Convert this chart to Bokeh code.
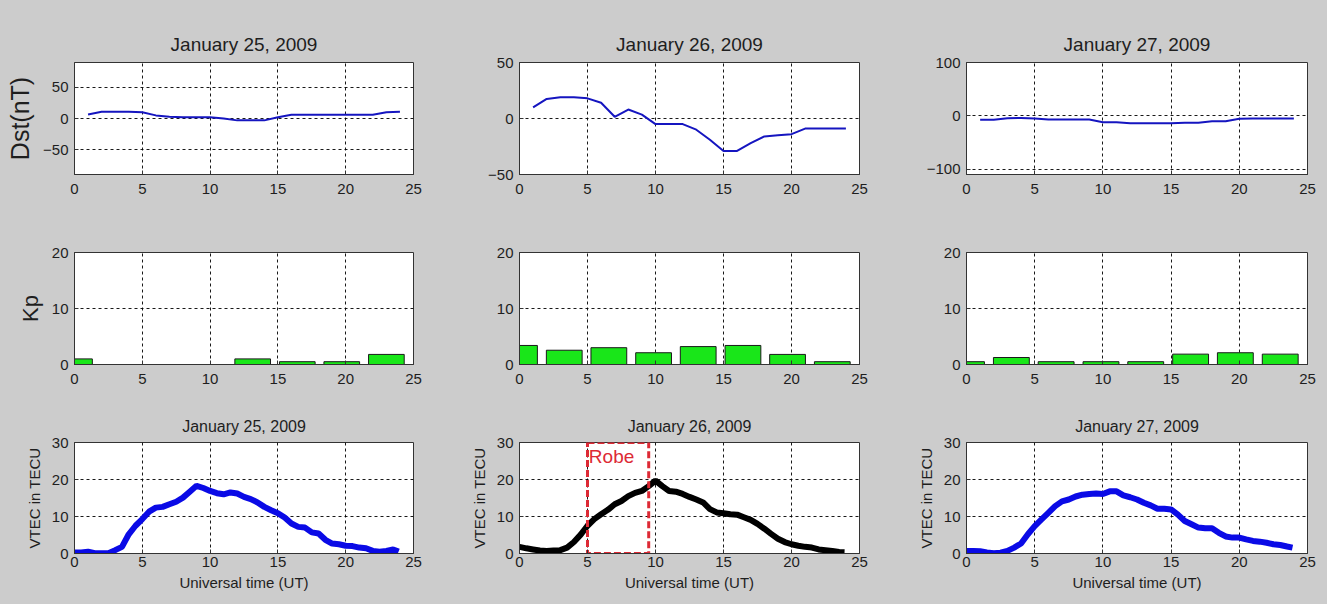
from bokeh.plotting import figure
from bokeh.layouts import gridplot
from bokeh.models import FixedTicker
from bokeh.embed import file_html
from bokeh.resources import INLINE
from bokeh.core.properties import value

# ---------------- data ----------------
days = ["January 25, 2009", "January 26, 2009", "January 27, 2009"]

dst_hours = [1, 2, 3, 4, 5, 6, 7, 8, 9, 10, 11, 12, 13, 14, 15, 16, 17, 18, 19, 20, 21, 22, 23, 24]
dst_jan25 = [6.5, 11, 11, 11, 10, 5, 3, 2, 2, 2, 0, -3, -3, -3, 2, 6, 6, 6, 6, 6, 6, 6, 10, 11]
dst_jan26 = [10, 17.5, 19, 19, 18, 14, 1.5, 8, 3.5, -5, -5, -5, -10, -19, -29, -29, -22, -16, -15, -14, -9, -9, -9, -9]
dst_jan27 = [-7.5, -7.5, -4.5, -4, -5, -7, -7, -7, -7, -12, -12, -14, -14, -14, -14, -13, -13, -10, -10, -5.5, -5, -5, -5, -5]

kp_times = [0, 3.29, 6.57, 9.86, 13.14, 16.43, 19.71, 23.0]
kp_jan25 = [1.0, 0, 0, 0, 1.0, 0.5, 0.5, 1.8]
kp_jan26 = [3.4, 2.55, 3.0, 2.1, 3.2, 3.4, 1.8, 0.5]
kp_jan27 = [0.5, 1.25, 0.5, 0.5, 0.5, 1.85, 2.1, 1.85]

vtec_hours = [0, 0.5, 1, 1.5, 2, 2.5, 3, 3.5, 4, 4.5, 5, 5.5, 6, 6.5, 7, 7.5, 8, 8.5, 9, 9.5,
              10, 10.5, 11, 11.5, 12, 12.5, 13, 13.5, 14, 14.5, 15, 15.5, 16, 16.5, 17, 17.5,
              18, 18.5, 19, 19.5, 20, 20.5, 21, 21.5, 22, 22.5, 23, 23.5, 23.9]
vtec_jan25 = [0.3, 0.3, 0.5, 0.1, 0.1, 0.1, 0.9, 1.8, 5.2, 7.5, 9.3, 11.3, 12.4, 12.6, 13.3, 14.0,
              15.1, 16.7, 18.3, 17.7, 16.9, 16.3, 16.0, 16.5, 16.2, 15.3, 14.7, 13.8, 12.6, 11.7,
              10.9, 9.7, 8.1, 7.2, 7.0, 5.7, 5.4, 3.7, 2.7, 2.5, 2.1, 2.0, 1.6, 1.4, 0.7, 0.5, 0.7, 1.1, 0.5]
vtec_jan26 = [1.8, 1.4, 1.1, 0.8, 0.7, 0.8, 0.9, 1.6, 3.1, 5.1, 7.5, 9.3, 10.6, 11.8, 13.3, 14.2,
              15.5, 16.4, 16.9, 18.2, 19.7, 18.2, 16.9, 16.7, 16.1, 15.3, 14.6, 13.8, 12.0, 11.1,
              10.9, 10.6, 10.5, 9.8, 9.1, 8.0, 6.7, 5.3, 4.0, 3.1, 2.5, 2.1, 1.8, 1.6, 1.1, 0.9, 0.7, 0.4, 0.35]
vtec_jan27 = [0.7, 0.7, 0.6, 0.3, 0.1, 0.2, 0.7, 1.6, 2.7, 5.2, 7.4, 9.2, 11.0, 12.8, 14.1, 14.6,
              15.4, 15.9, 16.1, 16.2, 16.1, 16.8, 16.8, 15.7, 15.2, 14.6, 13.7, 13.0, 12.1, 12.1,
              11.9, 10.5, 8.8, 7.9, 7.0, 6.8, 6.8, 5.6, 4.6, 4.3, 4.3, 3.8, 3.4, 3.2, 2.9, 2.5, 2.3, 1.9, 1.6]

robe_x = [5, 9.5]
robe_y = [0, 30]
robe_label = "Robe"

x_ticks = [0, 5, 10, 15, 20, 25]
dst_yranges = [(-90, 90), (-50, 50), (-110, 100)]
dst_yticks = [[-50, 0, 50], [-50, 0, 50], [-100, 0, 100]]
kp_yticks = [0, 10, 20]
vtec_yticks = [0, 10, 20, 30]

# ---------------- layout ----------------
BG = "#cccccc"
FONT = "Liberation Sans"
TXT = "#1e1e1e"
col_w = [445, 440, 442]
col_lr = [(74, 32), (74, 26), (81, 20)]
row_h = [205, 190, 209]
row_tb = [(62, 31), (47, 31), (47, 51)]
row_title_standoff = [15, 0, 15]
row_xlabel_standoff = [9, 9, 3]


def make_fig(r, c, yrange, yticks, title=None, title_size="19px", ylabel=None,
             ylabel_size="20px", xlabel=None):
    left, right = col_lr[c]
    top, bottom = row_tb[r]
    p = figure(width=col_w[c], height=row_h[r], x_range=(0, 25), y_range=yrange,
               output_backend="svg", toolbar_location=None,
               min_border_left=left, min_border_right=right,
               min_border_top=top, min_border_bottom=bottom)
    p.background_fill_color = "white"
    p.border_fill_color = BG
    p.outline_line_color = "#333333"
    p.outline_line_width = 1
    if title:
        p.title.text = title
        p.title.align = "center"
        p.title.text_font = FONT
        p.title.text_font_size = title_size
        p.title.text_font_style = "normal"
        p.title.text_color = TXT
        p.title.standoff = row_title_standoff[r]
    p.xaxis.ticker = FixedTicker(ticks=x_ticks)
    p.yaxis.ticker = FixedTicker(ticks=yticks)
    for ax in (p.xaxis[0], p.yaxis[0]):
        ax.major_tick_in = 4
        ax.major_tick_out = 0
        ax.minor_tick_in = 0
        ax.minor_tick_out = 0
        ax.axis_line_color = "#333333"
        ax.major_tick_line_color = "#333333"
        ax.major_label_text_font = FONT
        ax.major_label_text_font_size = "15px"
        ax.major_label_text_color = TXT
        ax.axis_label_text_font = FONT
        ax.axis_label_text_font_style = "normal"
        ax.axis_label_text_color = TXT
    p.xaxis.major_label_standoff = row_xlabel_standoff[r]
    p.yaxis.major_label_standoff = 6
    if ylabel:
        p.yaxis.axis_label = ylabel
        p.yaxis.axis_label_text_font_size = ylabel_size
        p.yaxis.axis_label_standoff = 6
    if xlabel:
        p.xaxis.axis_label = xlabel
        p.xaxis.axis_label_text_font_size = "15px"
        p.xaxis.axis_label_standoff = 4
    for g in (p.xgrid[0], p.ygrid[0]):
        g.grid_line_color = "black"
        g.grid_line_dash = "3 3"
        g.grid_line_width = 1
        g.grid_line_alpha = 0.9
    return p


# Row 1: Dst
row1 = []
for c, vals in enumerate([dst_jan25, dst_jan26, dst_jan27]):
    p = make_fig(0, c, dst_yranges[c], dst_yticks[c], title=days[c],
                 ylabel="Dst(nT)" if c == 0 else None, ylabel_size="25px")
    p.line(dst_hours, vals, line_color="#1515c0", line_width=2)
    row1.append(p)

# Row 2: Kp
row2 = []
for c, vals in enumerate([kp_jan25, kp_jan26, kp_jan27]):
    p = make_fig(1, c, (0, 20), kp_yticks, ylabel="Kp" if c == 0 else None, ylabel_size="22px")
    p.vbar(x=kp_times, top=vals, bottom=0, width=2.63, fill_color="#19e619",
           line_color="#1a1a1a", line_width=1)
    row2.append(p)

# Row 3: VTEC
row3 = []
vtec_colors = ["#0a0ae6", "#000000", "#0a0ae6"]
for c, vals in enumerate([vtec_jan25, vtec_jan26, vtec_jan27]):
    p = make_fig(2, c, (0, 30), vtec_yticks, title=days[c], title_size="16px",
                 ylabel="VTEC in TECU", ylabel_size="15px", xlabel="Universal time (UT)")
    p.line(vtec_hours, vals, line_color=vtec_colors[c], line_width=6)
    if c == 1:
        p.quad(left=[robe_x[0]], right=[robe_x[1]], bottom=[robe_y[0]], top=[robe_y[1]],
               fill_alpha=0, line_color="#dd2a35", line_width=3, line_dash="7 3")
        p.text(x=[robe_x[0] + 0.1], y=[robe_y[1] - 1], text=[robe_label],
               text_color="#dd2a35", text_font=value(FONT), text_font_size="19px",
               text_baseline="top", text_align="left")
    row3.append(p)

grid = gridplot([row1, row2, row3], toolbar_location=None)
grid.styles = {"background-color": BG}
open("out.html", "w").write(file_html(grid, INLINE))
